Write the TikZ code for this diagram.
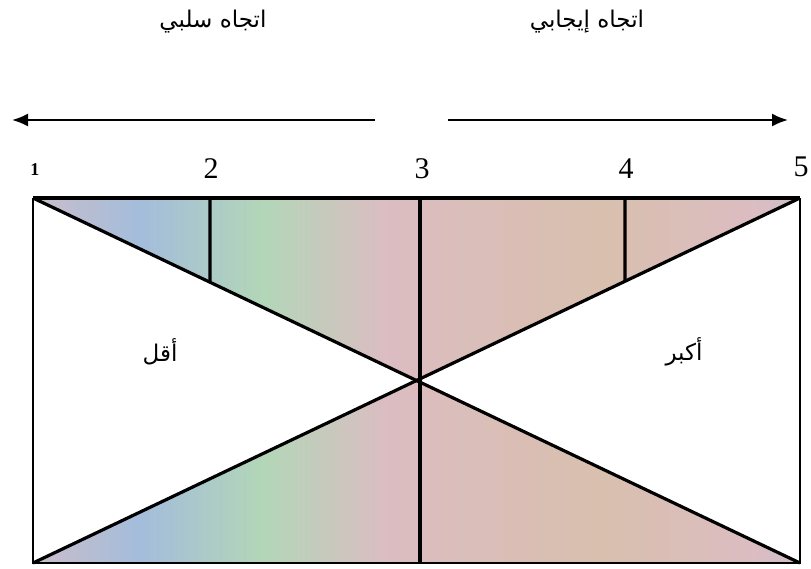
\documentclass[tikz,border=0pt]{standalone}
\usepackage{fontspec}
\setmainfont{Liberation Serif}
\newfontfamily\numfont{Liberation Serif}
\newfontfamily\arabicfont[Script=Arabic]{DejaVu Sans}
\TeXXeTstate=1
\usepackage{tikz}
\usetikzlibrary{arrows.meta,calc,positioning}
\definecolor{scanbeige}{rgb}{0.85,0.75,0.68}
\definecolor{scanblue}{rgb}{0.64,0.74,0.86}
\definecolor{scangreen}{rgb}{0.70,0.84,0.72}
\definecolor{scanpink}{rgb}{0.86,0.74,0.76}
\pgfdeclarehorizontalshading{scanshade}{100bp}{color(0bp)=(scanbeige);
  color(12bp)=(scanblue); color(22bp)=(scanpink); color(32bp)=(scanblue);
  color(40bp)=(scangreen); color(48bp)=(scanpink); color(62bp)=(scanbeige);
  color(72bp)=(scanpink); color(84bp)=(scanblue); color(100bp)=(scanblue)}

\begin{document}
\begin{tikzpicture}[x=1pt,y=-1pt,
    edge/.style={line width=3.2pt},
    side/.style={line width=2pt},
    numlabel/.style={font=\numfont\fontsize{30}{34}\selectfont},
    arlabel/.style={font=\arabicfont\fontsize{23}{28}\selectfont}]
  \useasboundingbox (0,0) rectangle (811,568);

  % corners of the box and the crossing point
  \coordinate (TL) at (33,198);
  \coordinate (TR) at (800,198);
  \coordinate (BL) at (33,563);
  \coordinate (BR) at (800,563);
  \coordinate (C) at (420,380.5);

  % shaded triangles
  \shade[shading=scanshade] (TL) -- (TR) -- (C) -- cycle;
  \shade[shading=scanshade] (BL) -- (BR) -- (C) -- cycle;

  % box, diagonals and middle line
  \draw[side] (TL) -- (BL) -- (BR) -- (TR);
  \draw[edge] (TL) -- (TR);
  \draw[edge] (TL) -- (BR);
  \draw[edge] (TR) -- (BL);
  \coordinate (M3) at (420,198);
  \coordinate (M3b) at (420,563);
  \draw[edge] (M3) -- (M3b);

  % short lines at 2 and 4
  \coordinate (M2) at (210,198);
  \coordinate (M2b) at (210,563);
  \coordinate (M4) at (625,198);
  \coordinate (M4b) at (625,563);
  \draw[edge] (M2) -- (intersection of TL--C and M2--M2b);
  \draw[edge] (M4) -- (intersection of TR--C and M4--M4b);

  % numbers above the box
  \node[font=\numfont\bfseries\fontsize{18}{20}\selectfont] (n1) at (35,170) {1};
  \node[numlabel] (n2) at (211,169) {2};
  \node[numlabel] (n3) at (422,169) {3};
  \node[numlabel] (n4) at (626,169) {4};
  \node[numlabel] (n5) at (801,167) {5};

  % direction arrows
  \coordinate (negS) at (375,120);
  \coordinate (negE) at (12,120);
  \coordinate (posS) at (448,120);
  \coordinate (posE) at (788,120);
  \draw[line width=2pt,-{Latex[length=16pt,width=13pt]}] (negS) -- (negE);
  \draw[line width=2pt,-{Latex[length=16pt,width=13pt]}] (posS) -- (posE);

  % direction labels
  \node[arlabel] (neg) at (213,22) {\beginR اتجاه سلبي\endR};
  \node[arlabel] (pos) at (587,22) {\beginR اتجاه إيجابي\endR};

  % less / more
  \node[arlabel] (less) at (160,352) {\beginR أقل\endR};
  \node[arlabel] (more) at (684,352) {\beginR أكبر\endR};
\end{tikzpicture}
\end{document}
